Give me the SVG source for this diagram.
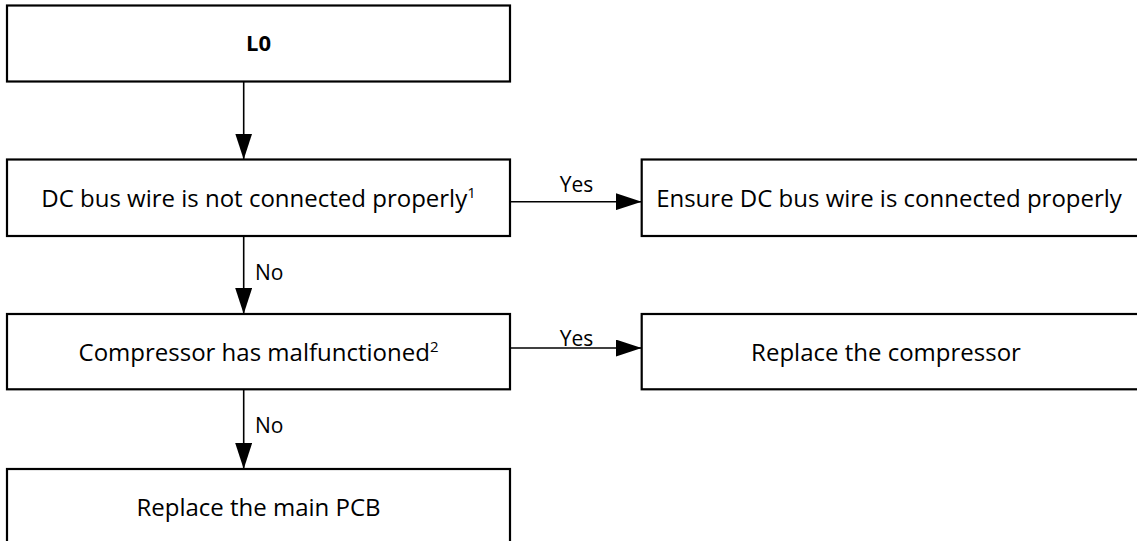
<svg xmlns="http://www.w3.org/2000/svg" width="1137" height="541" viewBox="0 0 1137 541">
  <style>
    .box { fill: #ffffff; stroke: #000000; stroke-width: 2.2; }
    .t { font-family: "Open Sans", "Liberation Sans", sans-serif; font-size: 24px; fill: #000000; text-anchor: middle; }
    .lbl { font-family: "Open Sans", "Liberation Sans", sans-serif; font-size: 21px; fill: #000000; }
    .b { font-weight: bold; font-size: 22px; }
    .sup { font-size: 15px; }
    .conn { stroke: #000000; stroke-width: 1.6; fill: none; }
  </style>
  <defs>
    <marker id="ah" markerUnits="userSpaceOnUse" markerWidth="26" markerHeight="17" refX="26" refY="8.5" orient="auto">
      <path d="M0,0 L26,8.5 L0,17 z" fill="#000000"/>
    </marker>
  </defs>
  <rect width="1137" height="541" fill="#ffffff"/>

  <g id="connectors">
    <line class="conn" x1="243.7" y1="81.5" x2="243.7" y2="159.5" marker-end="url(#ah)"/>
    <line class="conn" x1="510" y1="201.7" x2="641.7" y2="201.7" marker-end="url(#ah)"/>
    <text class="lbl" x="576.5" y="192" text-anchor="middle">Yes</text>
    <line class="conn" x1="243.7" y1="236" x2="243.7" y2="314" marker-end="url(#ah)"/>
    <text class="lbl" x="255" y="280">No</text>
    <line class="conn" x1="510" y1="348" x2="641.7" y2="348" marker-end="url(#ah)"/>
    <text class="lbl" x="576.5" y="346" text-anchor="middle">Yes</text>
    <line class="conn" x1="243.7" y1="389.3" x2="243.7" y2="469" marker-end="url(#ah)"/>
    <text class="lbl" x="255" y="433">No</text>
  </g>

  <g id="node-l0">
    <rect class="box" x="7" y="5.5" width="503" height="76"/>
    <text class="t b" x="258.5" y="51">L0</text>
  </g>
  <g id="node-dc-bus">
    <rect class="box" x="7" y="159.5" width="503" height="76.5"/>
    <text class="t" x="258.5" y="206.5">DC bus wire is not connected properly<tspan class="sup" dy="-9">1</tspan></text>
  </g>
  <g id="node-ensure">
    <rect class="box" x="641.7" y="159.5" width="500" height="76.5"/>
    <text class="t" x="889" y="206.5">Ensure DC bus wire is connected properly</text>
  </g>
  <g id="node-compressor">
    <rect class="box" x="7" y="314" width="503" height="75.3"/>
    <text class="t" x="258.5" y="360.5">Compressor has malfunctioned<tspan class="sup" dy="-9">2</tspan></text>
  </g>
  <g id="node-replace-compressor">
    <rect class="box" x="641.7" y="314" width="500" height="75.3"/>
    <text class="t" x="886" y="360.5">Replace the compressor</text>
  </g>
  <g id="node-replace-pcb">
    <rect class="box" x="7" y="469" width="503" height="80"/>
    <text class="t" x="258.5" y="515.5">Replace the main PCB</text>
  </g>
</svg>
